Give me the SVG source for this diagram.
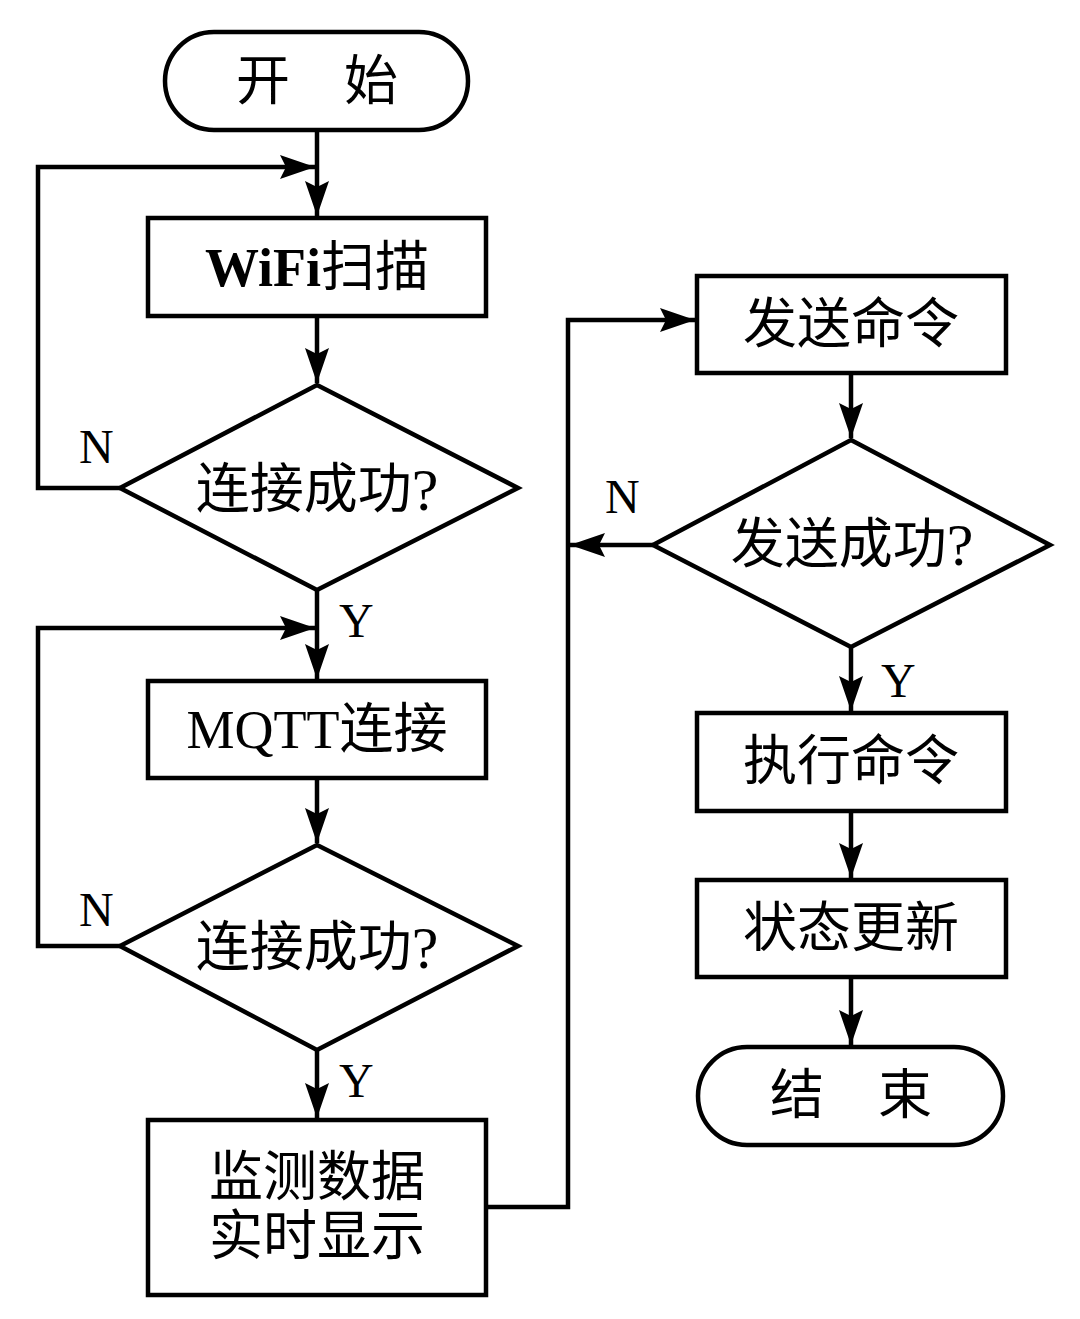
<svg xmlns="http://www.w3.org/2000/svg" width="1080" height="1319" viewBox="0 0 1080 1319">
<style>
.shape{fill:#fff;stroke:#000;stroke-width:4.5}
.line{fill:none;stroke:#000;stroke-width:4.5}
.t{font-family:"Liberation Serif","Noto Sans CJK SC",serif;font-size:54px;fill:#000;text-anchor:middle;dominant-baseline:central}
.q{font-size:60px}
.lbl{font-family:"Liberation Serif",serif;font-size:48px;fill:#000}
</style>
<defs>
<marker id="ah" markerUnits="userSpaceOnUse" viewBox="-36 -13 38 26" markerWidth="38" markerHeight="26" refX="0" refY="0" orient="auto">
<path d="M0,0 L-35,-12 L-29,0 L-35,12 Z" fill="#000"/>
</marker>
</defs>
<rect width="1080" height="1319" fill="#fff"/>
<g id="connectors">
<path class="line" d="M317,130 V216" marker-end="url(#ah)"/>
<path class="line" d="M120,488 H38 V167 H315" marker-end="url(#ah)"/>
<path class="line" d="M317,316 V383" marker-end="url(#ah)"/>
<path class="line" d="M317,590 V679" marker-end="url(#ah)"/>
<path class="line" d="M120,946 H38 V628 H315" marker-end="url(#ah)"/>
<path class="line" d="M317,778 V843" marker-end="url(#ah)"/>
<path class="line" d="M317,1050 V1118" marker-end="url(#ah)"/>
<path class="line" d="M486,1207 H568 V320 H695" marker-end="url(#ah)"/>
<path class="line" d="M851,373 V438" marker-end="url(#ah)"/>
<path class="line" d="M653,545 H570" marker-end="url(#ah)"/>
<path class="line" d="M851,647 V711" marker-end="url(#ah)"/>
<path class="line" d="M851,811 V878" marker-end="url(#ah)"/>
<path class="line" d="M851,977 V1045" marker-end="url(#ah)"/>
<text class="lbl" x="79" y="463">N</text>
<text class="lbl" x="339" y="637">Y</text>
<text class="lbl" x="79" y="926">N</text>
<text class="lbl" x="339" y="1097">Y</text>
<text class="lbl" x="605" y="513">N</text>
<text class="lbl" x="881" y="697">Y</text>
</g>
<g id="start">
<rect class="shape" x="165" y="32" width="303" height="98" rx="49"/>
<text class="t" x="317" y="82">开　始</text>
</g>
<g id="wifi">
<rect class="shape" x="148" y="218" width="338" height="98"/>
<text class="t" x="317" y="268"><tspan font-weight="bold">WiFi</tspan>扫描</text>
</g>
<g id="dec1">
<polygon class="shape" points="317,385 518,488 317,590 120,488"/>
<text class="t" x="317" y="490">连接成功<tspan class="q">?</tspan></text>
</g>
<g id="mqtt">
<rect class="shape" x="148" y="681" width="338" height="97"/>
<text class="t" x="317" y="730">MQTT连接</text>
</g>
<g id="dec2">
<polygon class="shape" points="317,845 518,946 317,1050 120,946"/>
<text class="t" x="317" y="948">连接成功<tspan class="q">?</tspan></text>
</g>
<g id="monitor">
<rect class="shape" x="148" y="1120" width="338" height="175"/>
<text class="t" x="317" y="1178">监测数据</text>
<text class="t" x="317" y="1237">实时显示</text>
</g>
<g id="send">
<rect class="shape" x="697" y="276" width="309" height="97"/>
<text class="t" x="851" y="325">发送命令</text>
</g>
<g id="dec3">
<polygon class="shape" points="851,440 1050,545 851,647 653,545"/>
<text class="t" x="852" y="545">发送成功<tspan class="q">?</tspan></text>
</g>
<g id="exec">
<rect class="shape" x="697" y="713" width="309" height="98"/>
<text class="t" x="851" y="762">执行命令</text>
</g>
<g id="update">
<rect class="shape" x="697" y="880" width="309" height="97"/>
<text class="t" x="851" y="929">状态更新</text>
</g>
<g id="end">
<rect class="shape" x="698" y="1047" width="305" height="98" rx="49"/>
<text class="t" x="851" y="1096">结　束</text>
</g>
</svg>
